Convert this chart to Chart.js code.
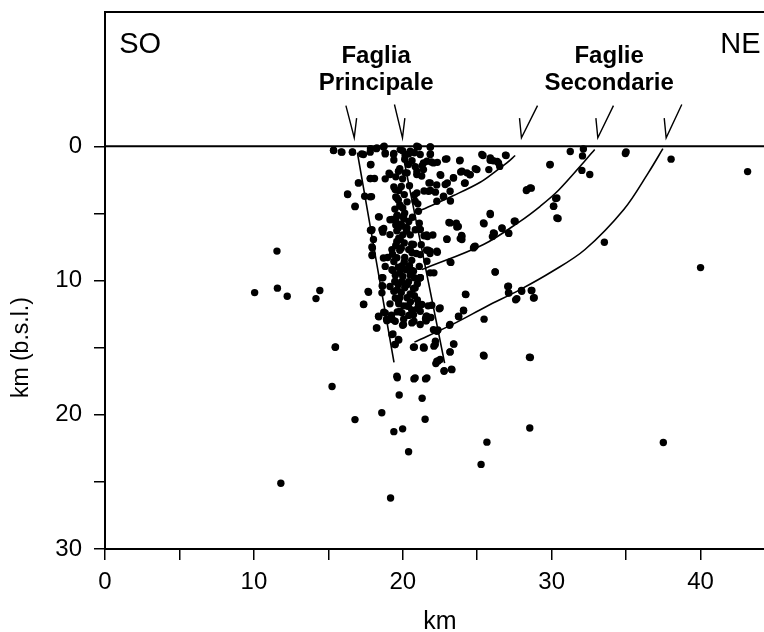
<!DOCTYPE html>
<html>
<head>
<meta charset="utf-8">
<script src="https://cdn.jsdelivr.net/npm/chart.js@4.4.0/dist/chart.umd.min.js"></script>
<style>
    html, body { margin: 0; padding: 0; background: #fff; overflow: hidden; }
    #wrap { width: 780px; height: 632px; }
</style>
</head>
<body>
<div id="wrap"><canvas id="chart"></canvas></div>
<script>
// epicentres [km along section, km b.s.l.]
const quakesSparse = [
    [10.05,10.9],[11.55,7.81],[11.58,10.57],[12.24,11.17],[11.81,25.1],[14.17,11.35],[14.43,10.75],[15.48,14.95],
    [15.25,17.9],[16.79,20.36],[17.38,11.77],[16.30,3.6],[16.79,4.5],[17.02,2.73],[18.59,19.85],[19.40,21.26],
    [19.99,21.05],[20.39,22.76],[19.63,17.24],[19.76,18.53],[20.75,17.33],[21.53,17.33],[21.30,18.77],[21.50,20.33],
    [19.18,26.2],[25.26,23.7],[25.65,22.04],[28.53,20.99],[28.57,15.74],[25.46,15.62],[37.5,22.07],[40.0,9.04],
    [43.16,1.89],[38.02,0.96],[34.95,0.54],[35.0,0.42],[33.54,7.15],[31.25,0.39],[32.13,0.21],[32.07,0.72],
    [32.03,1.80],[32.56,2.10],[29.88,1.38],[28.3,3.3],[28.63,3.12],[30.27,3.9],[30.14,4.47],[30.43,5.38],
    [27.05,10.45],[27.12,10.93],[27.58,11.44],[27.97,10.75],[28.63,10.75],[28.83,11.29],[26.21,9.37],[25.46,12.88],
    [24.21,11.02],[24.08,12.25],[23.76,12.70],[23.17,13.27],[23.43,14.74],[23.17,15.32],[23.27,16.61],[22.77,16.76],
    [22.22,16.19],[22.38,16.0],[22.09,14.89],[22.19,14.53],[22.36,13.69],[21.40,14.95],[20.78,14.95]
];

const quakesCluster = [
    [20.72,12.55],[20.98,12.10],[22.45,12.1],[21.89,12.76],[21.70,11.89],[21.53,12.85],[21.56,13.0],[20.75,13.03],
    [19.99,13.33],[19.73,14.44],[19.34,13.99],[19.47,14.77],[18.23,13.54],[18.39,12.70],[18.91,12.88],[18.72,12.37],
    [19.24,12.58],[19.63,12.34],[20.06,12.88],[17.67,10.81],[18.62,10.39],[18.66,9.79],[17.96,8.08],[17.96,7.57],
    [17.83,6.25],[18.42,5.26],[17.90,3.75],[17.44,3.72],[17.83,2.40],[18.10,2.40],[17.83,1.38],[17.24,0.57],
    [16.62,0.42],[15.87,0.42],[15.35,0.30],[17.83,0.18],[18.23,0.18],[18.75,0.0],[19.40,0.54],[19.40,1.02],
    [18.82,0.57],[19.99,0.33],[20.39,0.57],[20.94,0.0],[20.78,0.48],[21.86,0.06],[21.86,0.57],[22.87,0.96],
    [23.82,1.08],[21.30,1.44],[21.92,1.17],[22.32,1.20],[23.40,2.34],[23.89,1.92],[24.31,1.98],[24.51,2.13],
    [24.15,2.76],[24.87,1.68],[25.39,0.69],[25.88,0.87],[26.08,1.08],[26.34,1.14],[26.51,1.50],[26.90,0.66],
    [25.78,1.74],[22.99,2.73],[22.55,2.16],[22.28,2.88],[21.76,2.73],[21.43,3.33],[21.86,3.30],[22.19,3.42],
    [22.74,3.72],[23.20,4.08],[20.78,3.63],[21.01,4.29],[21.27,2.22],[20.94,2.10],[20.84,1.53],[20.62,1.08],
    [20.13,0.96],[20.29,1.98],[20.45,2.94],[19.99,2.43],[19.53,2.28],[19.80,1.68],[19.08,2.01],[18.82,2.43],
    [19.40,3.03],[19.73,3.30],[19.53,3.78],[19.80,4.38],[20.29,4.14],[19.47,4.68],[19.63,5.14],[20.13,4.98],
    [19.14,5.47],[19.53,5.53],[20.06,5.38],[20.65,5.29],[21.11,5.74],[20.19,6.07],[20.26,6.31],[20.84,6.22],
    [17.90,6.28],[18.72,6.13],[18.66,6.40],[19.14,6.58],[19.73,6.85],[19.53,5.86],[18.03,6.94],[21.43,6.67],
    [21.66,6.73],[21.24,7.33],[20.91,7.99],[20.62,7.93],[21.70,7.75],[21.83,7.99],[22.32,7.90],[19.53,7.39],
    [19.80,7.75],[19.31,8.05],[18.98,8.29],[20.13,8.29],[19.96,8.89],[19.40,8.59],[18.82,8.95],[19.34,9.25],
    [19.80,9.43],[20.45,8.89],[20.62,9.25],[21.11,8.95],[20.78,9.79],[21.17,9.79],[20.39,10.09],[19.93,10.09],
    [19.47,10.09],[19.14,10.45],[19.63,10.69],[20.13,10.54],[20.72,10.60],[20.98,10.24],[19.80,11.29],[20.29,11.29],
    [20.78,11.14],[20.98,11.44],[19.73,11.74],[20.06,11.89],[20.52,11.59],[19.14,11.74],[23.6,5.74],[23.73,5.98],
    [23.10,5.68],[22.97,6.94],[23.86,6.88],[23.95,6.64],[24.80,7.48],[25.46,5.77],[25.88,5.08],[26.15,6.49],
    [26.02,6.73],[26.67,6.13],[27.12,6.49],[27.49,5.59],[23.23,8.65],[22.09,9.43],[21.60,7.75],[22.02,6.61],
    [21.60,6.61],[21.17,6.19]
];

const quakesDetail = [
    [15.35,0.32],[15.91,0.44],[16.62,0.44],[17.36,0.62],[17.81,0.44],[18.26,0.12],[18.7,0.05],[18.82,0.49],
    [19.38,0.62],[19.83,0.25],[20.16,0.69],[20.5,0.37],[21.05,0.05],[21.17,0.62],[17.86,1.36],[19.15,2.11],
    [19.71,1.86],[20.38,1.36],[20.16,1.98],[20.95,1.86],[21.39,1.74],[21.62,1.12],[17.81,2.41],[17.03,2.73],
    [16.29,3.55],[16.8,4.47],[17.81,3.77],[19.49,3.23],[19.6,3.85],[19.83,4.47],[19.6,5.21],[19.27,5.46],
    [20.05,5.21],[20.95,3.47],[20.83,4.1],[21.05,4.84],[18.37,5.26],[17.93,6.21],[18.6,6.21],[19.71,6.08],
    [20.28,6.08],[21.17,6.21],[19.83,6.95],[20.72,7.32],[17.93,7.5],
    [17.93,8.14],[18.7,8.32],[19.27,7.7],[19.83,7.57],[20.5,7.7],[21.17,8.07],[21.62,8.57],[19.27,9.19],
    [19.94,9.06],[20.72,9.31],[21.17,9.8],[18.6,9.8],[18.64,10.43],[19.49,10.06],[20.28,10.3],[20.83,10.55],
    [18.6,10.92],[17.7,10.88],[17.36,11.79],[19.71,11.55],[20.38,11.92],[21.05,11.79],[21.17,12.29],[19.94,12.41],
    [18.37,12.66],[18.82,12.41],[18.93,12.99],[19.49,13.04],[20.05,13.28],[20.61,13.16],[21.62,12.66],[18.26,13.53],
    [19.27,14.03],[19.71,14.4],[19.49,14.77],[20.72,14.97],[21.39,15.02],[15.46,14.97],[19.6,17.13],[20.83,17.25],
    [21.62,17.25],
    [21.84,0.05],[21.84,0.62],[21.39,1.24],[22.06,1.24],[22.96,0.94],[23.85,1.04],[25.31,0.62],[25.87,1.04],
    [26.43,1.24],[26.94,0.69],[23.97,1.86],[24.53,2.11],[24.98,1.74],[23.41,2.36],[22.51,2.11],[21.84,2.73],
    [22.85,2.85],[24.19,2.73],[23.18,3.35],[21.73,3.35],[22.29,4.1],[22.73,3.77],[29.9,1.36],[28.33,3.23],
    [28.56,3.1],[30.35,3.85],[30.12,4.47],[30.35,5.34],[25.87,5.01],[25.42,5.71],[23.18,5.71],[23.63,6.01],
    [22.96,6.9],[23.97,6.7],[23.97,6.95],[26.09,6.45],[26.66,6.08],[27.1,6.45],[27.55,5.59],[24.86,7.45],
    [22.29,7.82],[23.18,8.61],[24.75,7.57],[26.2,9.36],[27.1,10.43],[27.1,10.92],[27.66,11.35],[27.99,10.8],
    [28.67,10.75],[28.78,11.3],[24.24,11.05],[24.08,12.22],[23.74,12.66],[23.14,13.34],[22.51,12.04],[21.95,11.84],
    [21.57,12.66],[21.57,12.99],[22.06,13.66],[22.29,13.78],[23.41,14.72],[23.18,15.32],[21.44,15.02],[22.18,14.77],
    [22.29,16.02],[22.51,15.89],[22.78,16.71],[23.3,16.64],[25.42,15.57],[28.51,15.72],[21.84,7.82],[21.84,9.43],
    [21.17,9.8],[21.28,11.79],[21.17,13.28]
];

const quakesCore = [
    [19.9,3.0],[20.1,3.6],[19.7,4.0],[20.0,4.6],[19.9,5.8],[20.4,5.6],[19.6,6.3],[20.0,6.6],[20.5,6.6],
    [19.6,7.1],[20.1,7.2],[20.6,7.3],[19.9,7.6],[20.4,7.7],[19.6,8.3],[20.1,8.6],[20.6,8.5],[19.7,9.0],
    [20.2,9.2],[19.5,9.6],[20.0,9.7],[20.5,9.6],[19.7,10.3],[20.3,10.3],[19.4,10.8],[19.9,10.9],[20.5,11.0],
    [19.5,11.3],[20.3,11.9],[19.8,12.3],[20.6,12.2],[19.3,12.9],[20.4,12.6]
];

// main fault (two traces) and the three secondary faults
const faultMainWest = [[16.95,0.48],[19.41,16.1]];
const faultMainEast = [[19.98,0.47],[22.81,16.16]];
const faultSec1 = [[21.17,4.79],[23.41,3.67],[25.20,2.68],[26.32,1.79],[26.99,1.24],[27.55,0.69]];
const faultSec2 = [[21.28,9.19],[25.42,7.32],[27.88,5.59],[29.23,4.47],[30.46,3.28],[32.24,1.08],[32.89,0.24]];
const faultSec3 = [[20.78,14.59],[23.41,13.23],[25.65,11.92],[27.88,10.68],[30.0,9.35],[32.24,7.69],[34.86,4.69],[36.49,1.98],[37.47,0.18]];
const surface = [[0,0],[45,0]];

// arrows: tail, tip, barb
const arrows = [
    [[16.18,-3.03],[16.74,-0.63],[16.90,-2.1]],
    [[19.44,-3.11],[19.98,-0.63],[20.14,-2.1]],
    [[29.05,-3.03],[27.97,-0.63],[27.84,-2.1]],
    [[34.15,-3.03],[33.10,-0.63],[32.97,-2.1]],
    [[38.74,-3.11],[37.69,-0.63],[37.56,-2.1]]
];

const textLabels = [
    { text: 'SO', x: 0.95, y: -6.94, align: 'left', bold: false, size: 29 },
    { text: 'NE', x: 41.32, y: -6.94, align: 'left', bold: false, size: 29 },
    { text: 'Faglia', x: 18.21, y: -6.21, align: 'center', bold: true, size: 24 },
    { text: 'Principale', x: 18.21, y: -4.22, align: 'center', bold: true, size: 24 },
    { text: 'Faglie', x: 33.86, y: -6.21, align: 'center', bold: true, size: 24 },
    { text: 'Secondarie', x: 33.86, y: -4.22, align: 'center', bold: true, size: 24 }
];

const FONT = '"Liberation Sans", Arial, sans-serif';
const toXY = arr => arr.map(p => ({ x: p[0], y: p[1] }));

function lineSet(points, width) {
    return {
        data: toXY(points),
        showLine: true,
        borderColor: '#000',
        borderWidth: width,
        pointRadius: 0,
        tension: 0.35,
        fill: false
    };
}

let datasets = [
    lineSet(surface, 2),
    lineSet(faultMainWest, 1.6),
    lineSet(faultMainEast, 1.6),
    lineSet(faultSec1, 1.6),
    lineSet(faultSec2, 1.6),
    lineSet(faultSec3, 1.6)
];
arrows.forEach(a => {
    let d = lineSet(a, 1.4);
    d.tension = 0;
    d.clip = false;
    datasets.push(d);
});
datasets.push({
    data: toXY(quakesSparse.concat(quakesCluster, quakesDetail, quakesCore)),
    backgroundColor: '#000',
    borderWidth: 0,
    pointRadius: 3.7,
    pointHoverRadius: 3.7
});

const annotations = {
    id: 'annotations',
    afterDraw(chart) {
        const ctx = chart.ctx;
        const xs = chart.scales.x, ys = chart.scales.y, area = chart.chartArea;
        ctx.save();
        ctx.strokeStyle = '#000';
        ctx.lineWidth = 2;
        ctx.beginPath();
        ctx.moveTo(area.left - 1, area.top);
        ctx.lineTo(area.right, area.top);
        ctx.stroke();

        ctx.fillStyle = '#000';
        ctx.textBaseline = 'alphabetic';
        textLabels.forEach(l => {
            ctx.font = (l.bold ? 'bold ' : '') + l.size + 'px ' + FONT;
            ctx.textAlign = l.align;
            ctx.fillText(l.text, xs.getPixelForValue(l.x), ys.getPixelForValue(l.y));
        });

        ctx.translate(22, (ys.getPixelForValue(0) + ys.getPixelForValue(30)) / 2);
        ctx.rotate(-Math.PI / 2);
        ctx.font = '23px ' + FONT;
        ctx.textAlign = 'center';
        ctx.textBaseline = 'middle';
        ctx.fillText('km (b.s.l.)', 0, 0);
        ctx.restore();
    }
};

new Chart(document.getElementById('chart'), {
    type: 'scatter',
    data: { datasets: datasets },
    plugins: [annotations],
    options: {
        responsive: true,
        maintainAspectRatio: false,
        devicePixelRatio: 1,
        animation: false,
        events: [],
        layout: { padding: { top: 12, right: 5, left: 0, bottom: 0 } },
        plugins: { legend: { display: false }, tooltip: { enabled: false } },
        scales: {
            x: {
                type: 'linear',
                min: 0,
                max: 45,
                border: { color: '#000', width: 2 },
                grid: { drawOnChartArea: false, drawTicks: true, tickLength: 11, color: '#000', lineWidth: 1.5 },
                ticks: {
                    stepSize: 5,
                    autoSkip: false,
                    maxRotation: 0,
                    padding: 8,
                    color: '#000',
                    font: { family: FONT, size: 24 },
                    callback: v => (v % 10 === 0 ? v : '')
                },
                title: { display: true, text: 'km', color: '#000', font: { family: FONT, size: 25 }, padding: { top: 0, bottom: -5 } },
                afterFit: s => { s.height = 83; s.paddingLeft = 0; s.paddingRight = 0; }
            },
            y: {
                type: 'linear',
                min: -10,
                max: 30,
                reverse: true,
                border: { color: '#000', width: 2 },
                grid: {
                    drawOnChartArea: false,
                    drawTicks: true,
                    tickLength: 11,
                    lineWidth: 1.5,
                    color: '#000',
                    tickColor: c => (c.tick && c.tick.value < 0 ? 'rgba(0,0,0,0)' : '#000')
                },
                ticks: {
                    stepSize: 5,
                    autoSkip: false,
                    padding: 12,
                    color: '#000',
                    font: { family: FONT, size: 24 },
                    callback: v => (v >= 0 && v % 10 === 0 ? v : '')
                },
                afterFit: s => { s.width = 105; s.paddingTop = 0; s.paddingBottom = 0; }
            }
        }
    }
});
</script>
</body>
</html>
